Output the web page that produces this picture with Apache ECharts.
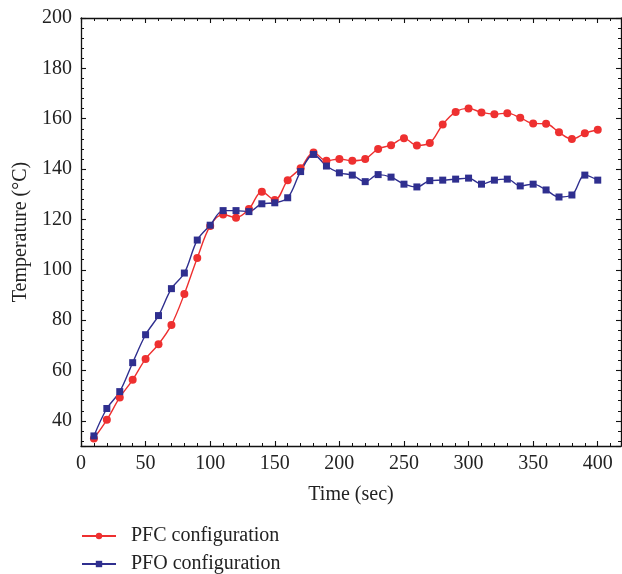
<!DOCTYPE html>
<html lang="en">
<head>
    <meta charset="utf-8">
    <title>Temperature</title>
    <script src="https://cdn.jsdelivr.net/npm/echarts@6/dist/echarts.min.js"></script>
    <style type="text/css">
        html, body {
            margin: 0;
            padding: 0;
            background: #ffffff;
        }

        #main {
            width: 622px;
            height: 574px;
        }
    </style>
</head>
<body>
<div id="main"></div>
<script type="text/javascript">
    // time in seconds
    const timeSec = [10, 20, 30, 40, 50, 60, 70, 80, 90, 100,
        110, 120, 130, 140, 150, 160, 170, 180, 190, 200,
        210, 220, 230, 240, 250, 260, 270, 280, 290, 300,
        310, 320, 330, 340, 350, 360, 370, 380, 390, 400];

    // PFC configuration (red circles)
    const pfcTemp = [33, 40.4, 49.3, 56.3, 64.6, 70.4, 78.1, 90.4, 104.7, 117.4,
        122, 120.7, 124.1, 131, 127.7, 135.6, 140.3, 146.6, 143.3, 144,
        143.3, 144, 148, 149.5, 152.2, 149.4, 150.4, 157.7, 162.7, 164.1,
        162.5, 161.8, 162.2, 160.4, 158.1, 158, 154.6, 151.9, 154.2, 155.6];

    // PFO configuration (blue squares)
    const pfoTemp = [34, 44.9, 51.6, 63.1, 74.2, 81.8, 92.5, 98.7, 111.8, 117.7,
        123.5, 123.5, 123.1, 126.2, 126.6, 128.6, 139, 145.8, 141.2, 138.5,
        137.6, 135, 137.8, 136.8, 134, 132.9, 135.4, 135.6, 136, 136.4,
        134, 135.6, 136, 133.3, 134, 131.7, 128.9, 129.7, 137.6, 135.6];

    const seriesNames = ['PFC configuration', 'PFO configuration'];

    const fontFamily = 'Liberation Serif';
    const red = '#ee3030';
    const blue = '#2f2f8f';

    function pairs(ys) {
        return timeSec.map(function (t, i) { return [t, ys[i]]; });
    }

    // bottom/top and left/right axis pieces share these
    const tickStyle = {
        axisLine: {show: true, onZero: false, lineStyle: {color: '#111', width: 1.3}},
        axisTick: {show: true, inside: true, length: 5, lineStyle: {color: '#111', width: 1.1}},
        minorTick: {show: true, splitNumber: 5, length: 3, lineStyle: {color: '#111', width: 1}},
        splitLine: {show: false}
    };

    const xRange = {type: 'value', min: 0, max: 418, interval: 50};
    const yRange = {type: 'value', min: 30, max: 200, splitNumber: 8};

    const myChart = echarts.init(document.getElementById('main'));
    myChart.setOption({
        animation: false,
        textStyle: {fontFamily: fontFamily},
        grid: {left: 81, right: 1, top: 18, bottom: 128, containLabel: false},
        xAxis: [
            Object.assign({}, xRange, tickStyle, {
                position: 'bottom',
                name: 'Time (sec)',
                nameLocation: 'middle',
                nameGap: 39,
                nameTextStyle: {fontFamily: fontFamily, fontSize: 20, color: '#222'},
                axisLabel: {
                    margin: 8, fontFamily: fontFamily, fontSize: 20, color: '#222',
                    showMaxLabel: false
                }
            }),
            Object.assign({}, xRange, tickStyle, {
                position: 'top',
                axisLabel: {show: false}
            })
        ],
        yAxis: [
            Object.assign({}, yRange, tickStyle, {
                position: 'left',
                name: 'Temperature (°C)',
                nameLocation: 'middle',
                nameGap: 50,
                nameTextStyle: {fontFamily: fontFamily, fontSize: 20, color: '#222'},
                axisLabel: {
                    margin: 9, fontFamily: fontFamily, fontSize: 20, color: '#222',
                    showMinLabel: false
                }
            }),
            Object.assign({}, yRange, tickStyle, {
                position: 'right',
                axisLabel: {show: false}
            })
        ],
        legend: {
            orient: 'vertical',
            left: 81,
            top: 526,
            padding: 0,
            itemGap: 8,
            itemWidth: 34,
            itemHeight: 8,
            data: seriesNames,
            textStyle: {fontFamily: fontFamily, fontSize: 20, color: '#222', padding: [0, 0, 0, 10]}
        },
        series: [
            {
                name: seriesNames[0],
                type: 'line',
                data: pairs(pfcTemp),
                smooth: 0.35,
                symbol: 'circle',
                symbolSize: 8,
                color: red,
                lineStyle: {width: 1.4, color: red},
                itemStyle: {color: red}
            },
            {
                name: seriesNames[1],
                type: 'line',
                data: pairs(pfoTemp),
                smooth: 0.35,
                symbol: 'rect',
                symbolSize: 7,
                color: blue,
                lineStyle: {width: 1.4, color: blue},
                itemStyle: {color: blue}
            }
        ]
    });
</script>
</body>
</html>
